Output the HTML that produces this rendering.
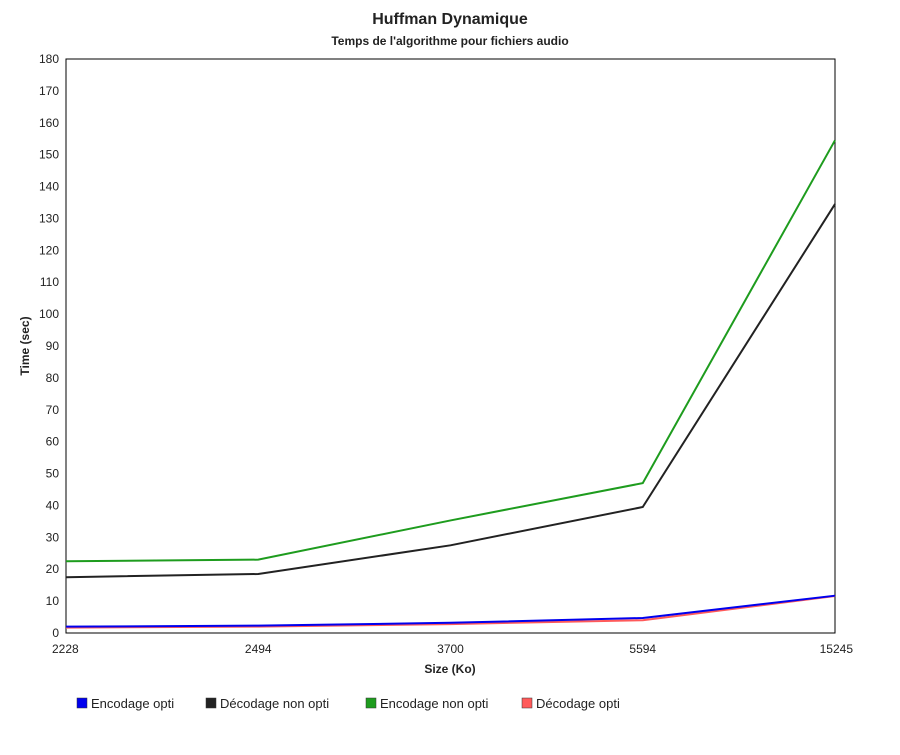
<!DOCTYPE html>
<html><head><meta charset="utf-8"><style>
body{margin:0;background:#fff;font-family:"Liberation Sans",sans-serif}
svg text{font-family:"Liberation Sans",sans-serif;fill:#222}
</style></head><body>
<svg id="chart" width="900" height="750">
<text x="450" y="24" text-anchor="middle" font-size="16" font-weight="bold">Huffman Dynamique</text>
<text x="450" y="45" text-anchor="middle" font-size="12" font-weight="bold" fill="#444">Temps de l'algorithme pour fichiers audio</text>
<g id="axes"></g><g id="series"></g>
<text x="450" y="673" text-anchor="middle" font-size="12" font-weight="bold">Size (Ko)</text>
<text transform="translate(29,346) rotate(-90)" text-anchor="middle" font-size="12" font-weight="bold">Time (sec)</text>
<g id="legend"></g>
</svg>
<script>
const categories=["2228","2494","3700","5594","15245"];
const encodageOpti=[2,2.3,3.2,4.7,11.7];
const decodageNonOpti=[17.5,18.5,27.5,39.5,134.5];
const encodageNonOpti=[22.5,23,35.3,47,154.5];
const decodageOpti=[1.7,2,2.8,4,11.6];
const yTicks=[0,10,20,30,40,50,60,70,80,90,100,110,120,130,140,150,160,170,180];
const seriesNames=["Encodage opti","Décodage non opti","Encodage non opti","Décodage opti"];
const L=66,R=835,T=59,B=633,yMax=180;
const ns="http://www.w3.org/2000/svg";
function x(i){return L+i*(R-L)/(categories.length-1);}
function y(v){return B-v/yMax*(B-T);}
function mk(tag,attrs,parent){const e=document.createElementNS(ns,tag);for(const k in attrs)e.setAttribute(k,attrs[k]);parent.appendChild(e);return e;}
const axes=document.getElementById('axes');
const frame=mk('rect',{x:L,y:T,width:R-L,height:B-T,fill:'none',stroke:'#000','stroke-width':1},axes);


yTicks.forEach(v=>{const t=mk('text',{x:L-7,y:y(v)+4,'text-anchor':'end','font-size':12},axes);t.textContent=v;

});
categories.forEach((c,i)=>{const a=i==0?'start':(i==categories.length-1?'end':'middle');
const t=mk('text',{x:i==0?L-14:(i==categories.length-1?R+18:x(i)),y:653,'text-anchor':a,'font-size':12},axes);t.textContent=c;

});
const sg=document.getElementById('series');
const order=[[decodageOpti,'#ff5a5a','decodage-opti-line'],[decodageNonOpti,'#222','decodage-non-opti-line'],[encodageNonOpti,'#1e9c1e','encodage-non-opti-line'],[encodageOpti,'#0000ee','encodage-opti-line']];
order.forEach(([d,c,n])=>{const p=mk('polyline',{points:d.map((v,i)=>x(i)+','+y(v)).join(' '),fill:'none',stroke:c,'stroke-width':2},sg);

});
const lg=document.getElementById('legend');
const lc=['#0000ee','#222','#1e9c1e','#ff5a5a'];const lx=[77,206,366,522];
seriesNames.forEach((s,i)=>{const g=mk('g',{},lg);


mk('rect',{x:lx[i],y:698,width:10,height:10,fill:lc[i],stroke:'#333','stroke-width':0.5},g);
const t=mk('text',{x:lx[i]+14,y:708,'font-size':13},g);t.textContent=s;});
</script>
</body></html>
